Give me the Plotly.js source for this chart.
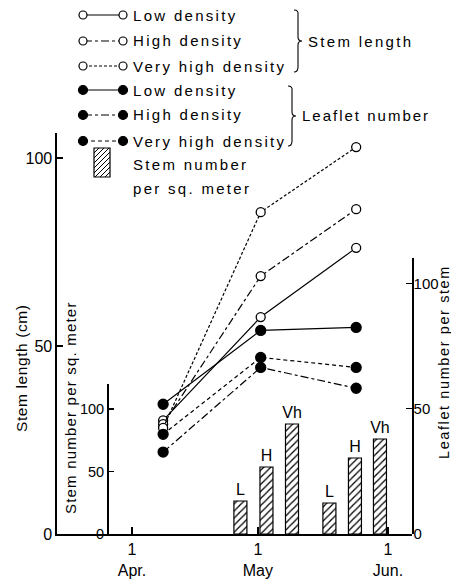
<!DOCTYPE html>
<html><head><meta charset="utf-8">
<script src="https://cdn.plot.ly/plotly-3.0.1.min.js"></script>
<style>html,body{margin:0;padding:0;background:#fff}#chart{width:451px;height:582px}</style>
</head><body><div id="chart"></div>
<script>
// ---- data ----
const sampleDates = ['2001-04-08 10:00', '2001-05-01 16:00', '2001-05-24 10:00'];
const stemLow = [30.2, 57.7, 76.1];
const stemHigh = [29.2, 68.6, 86.4];
const stemVeryHigh = [28.2, 85.6, 102.9];
const leafLow = [51.8, 81.3, 82.5];
const leafHigh = [32.7, 66.5, 58.2];
const leafVeryHigh = [39.8, 70.5, 66.5];
const barDates = ['2001-04-26 20:00', '2001-05-03 01:00', '2001-05-09 03:00', '2001-05-18 01:00', '2001-05-24 03:00', '2001-05-30 02:00'];
const stemNumber = [26.4, 53.6, 88, 24.8, 60.8, 76];
const barLabels = ['L', 'H', 'Vh', 'L', 'H', 'Vh'];
const monthTickVals = ['2001-04-01', '2001-05-01', '2001-06-01'];
const monthTickText = ['1<br>Apr.', '1<br>May', '1<br>Jun.'];
const densityLabels = ['Low density', 'High density', 'Very high density'];
const groupLabels = ['Stem length', 'Leaflet number'];
const barLegendLabel = ['Stem number', 'per sq. meter'];

// ---- helpers ----
const W = 451, H = 582;
const X = p => p / W;
const Y = p => 1 - p / H;
const FONT = 'Liberation Sans, Arial, sans-serif';
const sp = (t, s) => '<span style="letter-spacing:' + s + 'px">' + t + '</span>';
const DASH_HIGH = '8px,3px,3px,3px';
const DASH_VH_STEM = '3px,2px';
const DASH_VH_LEAF = '4px,3px';

function lineTrace(y, axis, dash, filled) {
  return {
    x: sampleDates, y: y, xaxis: 'x', yaxis: axis, type: 'scatter', mode: 'lines+markers',
    line: {color: 'black', width: 1.2, dash: dash},
    marker: {symbol: 'circle', size: filled ? 10 : 9, color: filled ? 'black' : 'white',
             line: {color: 'black', width: 1.3}},
    showlegend: false, hoverinfo: 'skip', cliponaxis: false
  };
}

const traces = [
  {
    x: barDates, y: stemNumber, xaxis: 'x', yaxis: 'y3', type: 'bar',
    width: 3.1 * 86400000,
    marker: {color: 'white', line: {color: 'black', width: 1.2},
             pattern: {shape: '/', fgcolor: 'black', bgcolor: 'white', size: 5, solidity: 0.25}},
    text: barLabels, textposition: 'outside', constraintext: 'none', cliponaxis: false,
    textfont: {family: FONT, size: 16, color: 'black'},
    showlegend: false, hoverinfo: 'skip'
  },
  lineTrace(stemLow, 'y', 'solid', false),
  lineTrace(stemHigh, 'y', DASH_HIGH, false),
  lineTrace(stemVeryHigh, 'y', DASH_VH_STEM, false),
  lineTrace(leafLow, 'y2', 'solid', true),
  lineTrace(leafHigh, 'y2', DASH_HIGH, true),
  lineTrace(leafVeryHigh, 'y2', DASH_VH_LEAF, true)
];

// ---- custom legend ----
const shapes = [];
const annotations = [];
const rowY = [15, 41, 66, 90, 115, 141];
const rowDash = ['solid', DASH_HIGH, DASH_VH_STEM, 'solid', DASH_HIGH, DASH_VH_LEAF];
rowY.forEach((ry, i) => {
  const filled = i >= 3;
  shapes.push({type: 'line', xref: 'paper', yref: 'paper', x0: X(84), x1: X(123), y0: Y(ry), y1: Y(ry),
               line: {color: 'black', width: 1.2, dash: rowDash[i]}});
  [83, 123].forEach(cx => {
    const r = filled ? 4.5 : 4;
    shapes.push({type: 'circle', xref: 'paper', yref: 'paper', x0: X(cx - r), x1: X(cx + r), y0: Y(ry + r), y1: Y(ry - r),
                 fillcolor: filled ? 'black' : 'white', line: {color: 'black', width: 1.2}});
  });
  annotations.push({xref: 'paper', yref: 'paper', x: X(131), y: Y(ry), xanchor: 'left', yanchor: 'middle', showarrow: false,
                    text: sp(densityLabels[i % 3], 2.3), font: {family: FONT, size: 15, color: 'black'}});
});
function brace(x0, top, bot, w) {
  const mid = (top + bot) / 2;
  const p = (x, y) => X(x) + ',' + Y(y);
  return 'M' + p(x0, top) + ' Q' + p(x0 + w * 0.6, top) + ' ' + p(x0 + w * 0.5, top + 5) +
         ' L' + p(x0 + w * 0.5, mid - 4) + ' Q' + p(x0 + w * 0.5, mid) + ' ' + p(x0 + w, mid) +
         ' Q' + p(x0 + w * 0.5, mid) + ' ' + p(x0 + w * 0.5, mid + 4) +
         ' L' + p(x0 + w * 0.5, bot - 5) + ' Q' + p(x0 + w * 0.5, bot) + ' ' + p(x0, bot);
}
shapes.push({type: 'path', xref: 'paper', yref: 'paper', path: brace(294, 10, 72, 8), line: {color: 'black', width: 1.1}});
shapes.push({type: 'path', xref: 'paper', yref: 'paper', path: brace(288, 86, 146, 8), line: {color: 'black', width: 1.1}});
annotations.push({xref: 'paper', yref: 'paper', x: X(306), y: Y(42), xanchor: 'left', yanchor: 'middle', showarrow: false,
                  text: sp(groupLabels[0], 2.3), font: {family: FONT, size: 15, color: 'black'}});
annotations.push({xref: 'paper', yref: 'paper', x: X(300), y: Y(116), xanchor: 'left', yanchor: 'middle', showarrow: false,
                  text: sp(groupLabels[1], 2.0), font: {family: FONT, size: 15, color: 'black'}});
// hatched legend box
const bx0 = 94, bx1 = 110, by0 = 148, by1 = 177;
shapes.push({type: 'rect', xref: 'paper', yref: 'paper', x0: X(bx0), x1: X(bx1), y0: Y(by1), y1: Y(by0),
             fillcolor: 'white', line: {color: 'black', width: 1.2}});
let hp = '';
for (let c = bx0 + by0 + 5; c < bx1 + by1; c += 5) {
  const xa = Math.max(bx0, c - by1), xb = Math.min(bx1, c - by0);
  if (xb <= xa) continue;
  hp += 'M' + X(xa) + ',' + Y(c - xa) + ' L' + X(xb) + ',' + Y(c - xb) + ' ';
}
shapes.push({type: 'path', xref: 'paper', yref: 'paper', path: hp, line: {color: 'black', width: 1}});
annotations.push({xref: 'paper', yref: 'paper', x: X(131), y: Y(164), xanchor: 'left', yanchor: 'middle', showarrow: false,
                  text: sp(barLegendLabel[0], 2.3), font: {family: FONT, size: 15, color: 'black'}});
annotations.push({xref: 'paper', yref: 'paper', x: X(131), y: Y(189), xanchor: 'left', yanchor: 'middle', showarrow: false,
                  text: sp(barLegendLabel[1], 2.3), font: {family: FONT, size: 15, color: 'black'}});

// axis titles
annotations.push({xref: 'paper', yref: 'paper', x: X(21), y: Y(368), xanchor: 'center', yanchor: 'middle', showarrow: false,
                  textangle: -90, text: sp('Stem length (cm)', 0.6), font: {family: FONT, size: 15.5, color: 'black'}});
annotations.push({xref: 'paper', yref: 'paper', x: X(70), y: Y(408), xanchor: 'center', yanchor: 'middle', showarrow: false,
                  textangle: -90, text: sp('Stem number per sq. meter', 1.2), font: {family: FONT, size: 15, color: 'black'}});
annotations.push({xref: 'paper', yref: 'paper', x: X(444), y: Y(362), xanchor: 'center', yanchor: 'middle', showarrow: false,
                  textangle: -90, text: sp('Leaflet number per stem', 1.6), font: {family: FONT, size: 14.5, color: 'black'}});

const axBase = {showgrid: false, zeroline: false, showline: true, linecolor: 'black', linewidth: 1.6,
                ticks: 'inside', tickcolor: 'black', tickwidth: 1.3, fixedrange: true};
const yBottom = Y(534);
const layout = {
  width: W, height: H,
  margin: {l: 0, r: 0, t: 0, b: 0},
  paper_bgcolor: 'white', plot_bgcolor: 'rgba(0,0,0,0)',
  font: {family: FONT, size: 16, color: 'black'},
  showlegend: false,
  bargap: 0,
  xaxis: Object.assign({}, axBase, {
    type: 'date', domain: [X(57), X(412)], range: ['2001-03-14 03:07', '2001-06-06 17:17'],
    tickmode: 'array', tickvals: monthTickVals, ticktext: monthTickText, ticklen: 7,
    anchor: 'y', tickfont: {size: 16}
  }),
  yaxis: Object.assign({}, axBase, {
    domain: [yBottom, Y(133)], range: [0, 106.65], tickmode: 'array', tickvals: [0, 50, 100],
    ticklen: 6, anchor: 'x', side: 'left', tickfont: {size: 16}
  }),
  yaxis2: Object.assign({}, axBase, {
    domain: [yBottom, Y(258)], range: [0, 110.2], tickmode: 'array', tickvals: [0, 50, 100],
    ticklen: 6, anchor: 'x', side: 'right', tickfont: {size: 15}, ticklabelstandoff: -3
  }),
  yaxis3: Object.assign({}, axBase, {
    domain: [yBottom, Y(384)], range: [0, 120], tickmode: 'array', tickvals: [0, 50, 100],
    ticklen: 5, anchor: 'free', position: X(107), side: 'left', tickfont: {size: 14.5}
  }),
  shapes: shapes,
  annotations: annotations
};

Plotly.newPlot('chart', traces, layout, {displayModeBar: false, staticPlot: true});
</script></body></html>
